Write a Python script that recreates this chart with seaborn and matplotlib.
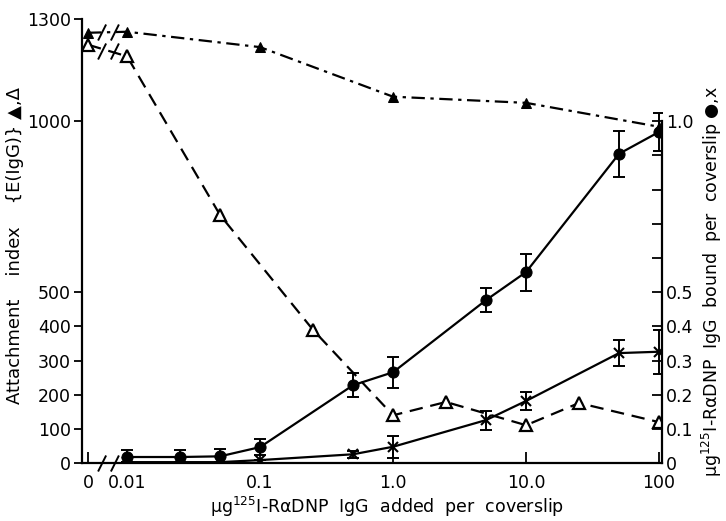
import numpy as np
import pandas as pd
import matplotlib
matplotlib.use('Agg')
import matplotlib.pyplot as plt
from matplotlib.path import Path
from matplotlib.ticker import FixedLocator, NullLocator
import seaborn as sns

# dose of 125I-RaDNP IgG added per coverslip (ug); 0 = no antibody
dose_tri = [0, 0.01, 0.05, 0.25, 1.0, 2.5, 10, 25, 100]
open_tri = [1224, 1190, 726, 390, 140, 179, 111, 176, 120]          # attachment index, open triangles

dose_ftri = [0, 0.01, 0.1, 1.0, 10, 100]
filled_tri = [1259, 1262, 1217, 1072, 1054, 984]                   # attachment index, filled triangles

dose_bound = [0.01, 0.025, 0.05, 0.1, 0.5, 1.0, 5, 10, 50, 100]
bound_circle = [0.018, 0.018, 0.020, 0.047, 0.228, 0.266, 0.477, 0.559, 0.905, 0.969]
err_circle = [0.020, 0.020, 0.020, 0.024, 0.035, 0.045, 0.035, 0.054, 0.068, 0.056]
bound_cross = [0.003, 0.003, 0.003, 0.009, 0.026, 0.048, 0.126, 0.182, 0.322, 0.326]
err_cross = [0.0, 0.0, 0.0, 0.0, 0.010, 0.032, 0.028, 0.026, 0.038, 0.065]

left_ticks = [0, 100, 200, 300, 400, 500, 1000, 1300]
right_ticks = [0, 0.1, 0.2, 0.3, 0.4, 0.5, 1.0]
right_ticklabels = ['0', '0.1', '0.2', '0.3', '0.4', '0.5', '1.0']
right_minor = [0.6, 0.7, 0.8, 0.9]
x_ticks = [0, 0.01, 0.1, 1.0, 10, 100]
x_ticklabels = ['0', '0.01', '0.1', '1.0', '10.0', '100']

sns.set_style('ticks', {'text.color': 'black', 'axes.labelcolor': 'black',
                        'xtick.color': 'black', 'ytick.color': 'black',
                        'axes.edgecolor': 'black'})
plt.rcParams['font.family'] = ['DejaVu Sans']
plt.rcParams['mathtext.fontset'] = 'dejavusans'
fs = 12.5

df_open = pd.DataFrame({'dose': dose_tri, 'index': open_tri})
df_fill = pd.DataFrame({'dose': dose_ftri, 'index': filled_tri})
df_bound = pd.DataFrame({'dose': dose_bound, 'circle': bound_circle, 'cross': bound_cross})

fig = plt.figure(figsize=(7.26, 5.21), dpi=100)
ax = fig.add_axes([0.113, 0.111, 0.799, 0.853])
ax.set_xscale('symlog', linthresh=0.01, linscale=0.264)
ax2 = ax.twinx()

# attachment index (left axis)
sns.lineplot(data=df_open, x='dose', y='index', ax=ax, color='black', lw=1.6,
             marker='^', markersize=9, markerfacecolor='white', markeredgecolor='black',
             markeredgewidth=1.6, estimator=None, sort=False)
ax.lines[-1].set_dashes((6, 3.5))
sns.lineplot(data=df_fill, x='dose', y='index', ax=ax, color='black', lw=1.6,
             marker='^', markersize=7.5, markerfacecolor='black', markeredgecolor='black',
             estimator=None, sort=False)
ax.lines[-1].set_dashes((6, 2.5, 1.5, 2.5))

# antibody bound (right axis)
ax2.errorbar(dose_bound, bound_circle, yerr=err_circle, fmt='none', ecolor='black',
             elinewidth=1.4, capsize=4, capthick=1.4)
ax2.errorbar(dose_bound, bound_cross, yerr=err_cross, fmt='none', ecolor='black',
             elinewidth=1.4, capsize=4, capthick=1.4)
sns.lineplot(data=df_bound, x='dose', y='circle', ax=ax2, color='black', lw=1.6,
             marker='o', markersize=8, markeredgecolor='black', estimator=None, sort=False)
sns.lineplot(data=df_bound, x='dose', y='cross', ax=ax2, color='black', lw=1.6,
             marker='x', markersize=7, markeredgewidth=1.5, markeredgecolor='black',
             estimator=None, sort=False)

ax.set_xlim(-0.00154, 105.4)
ax.set_ylim(0, 1300)
ax2.set_ylim(0, 1.3)

ax.xaxis.set_major_locator(FixedLocator(x_ticks))
ax.xaxis.set_minor_locator(NullLocator())
ax.set_xticklabels(x_ticklabels, fontsize=fs)
ax.set_yticks(left_ticks)
ax.set_yticklabels([str(t) for t in left_ticks], fontsize=fs)
ax2.set_yticks(right_ticks)
ax2.set_yticklabels(right_ticklabels, fontsize=fs)
ax2.yaxis.set_minor_locator(FixedLocator(right_minor))

ax.tick_params(axis='y', direction='out', length=6, width=1.3, pad=2)
ax.tick_params(axis='x', direction='in', length=8, width=1.3, pad=8)
ax2.tick_params(axis='y', which='major', direction='in', length=7, width=1.3, pad=3)
ax2.tick_params(axis='y', which='minor', direction='in', length=7, width=1.3)

for a in (ax, ax2):
    a.spines['top'].set_visible(False)
    for s in a.spines.values():
        s.set_linewidth(1.6)
ax.spines['right'].set_visible(False)
ax2.spines['left'].set_visible(False)
ax2.spines['bottom'].set_visible(False)
ax2.spines['right'].set_bounds(0, 1.0)

ax.set_xlabel('μg$^{125}$I-RαDNP  IgG  added  per  coverslip', fontsize=fs)
ax.xaxis.set_label_coords(0.526, -0.072)
ax.set_ylabel('Attachment    index    {E(IgG)} ▲,Δ', fontsize=13)
ax.yaxis.set_label_coords(-0.10, 0.49)
ax2.set_ylabel('μg$^{125}$I-RαDNP  IgG  bound  per  coverslip ●,x', fontsize=12.5,
               rotation=90)
ax2.yaxis.set_label_coords(1.066, 0.41)

# axis break marks between 0 and 0.01
slash = Path([(-1.3, -1), (-0.3, 1), (0.3, -1), (1.3, 1)],
             [Path.MOVETO, Path.LINETO, Path.MOVETO, Path.LINETO])
fig.canvas.draw()
p0 = ax.transData.transform((0, 0))[0]
p1 = ax.transData.transform((0.01, 0))[0]
x_break = ax.transData.inverted().transform(((p0 + p1) / 2, 0))[0]
for yb in [0, (open_tri[0] + open_tri[1]) / 2, (filled_tri[0] + filled_tri[1]) / 2]:
    ax.plot([x_break], [yb], marker=slash, markersize=15, color='black',
            markeredgewidth=1.4, linestyle='none', clip_on=False, zorder=5)

plt.savefig('out.png', dpi=100)
